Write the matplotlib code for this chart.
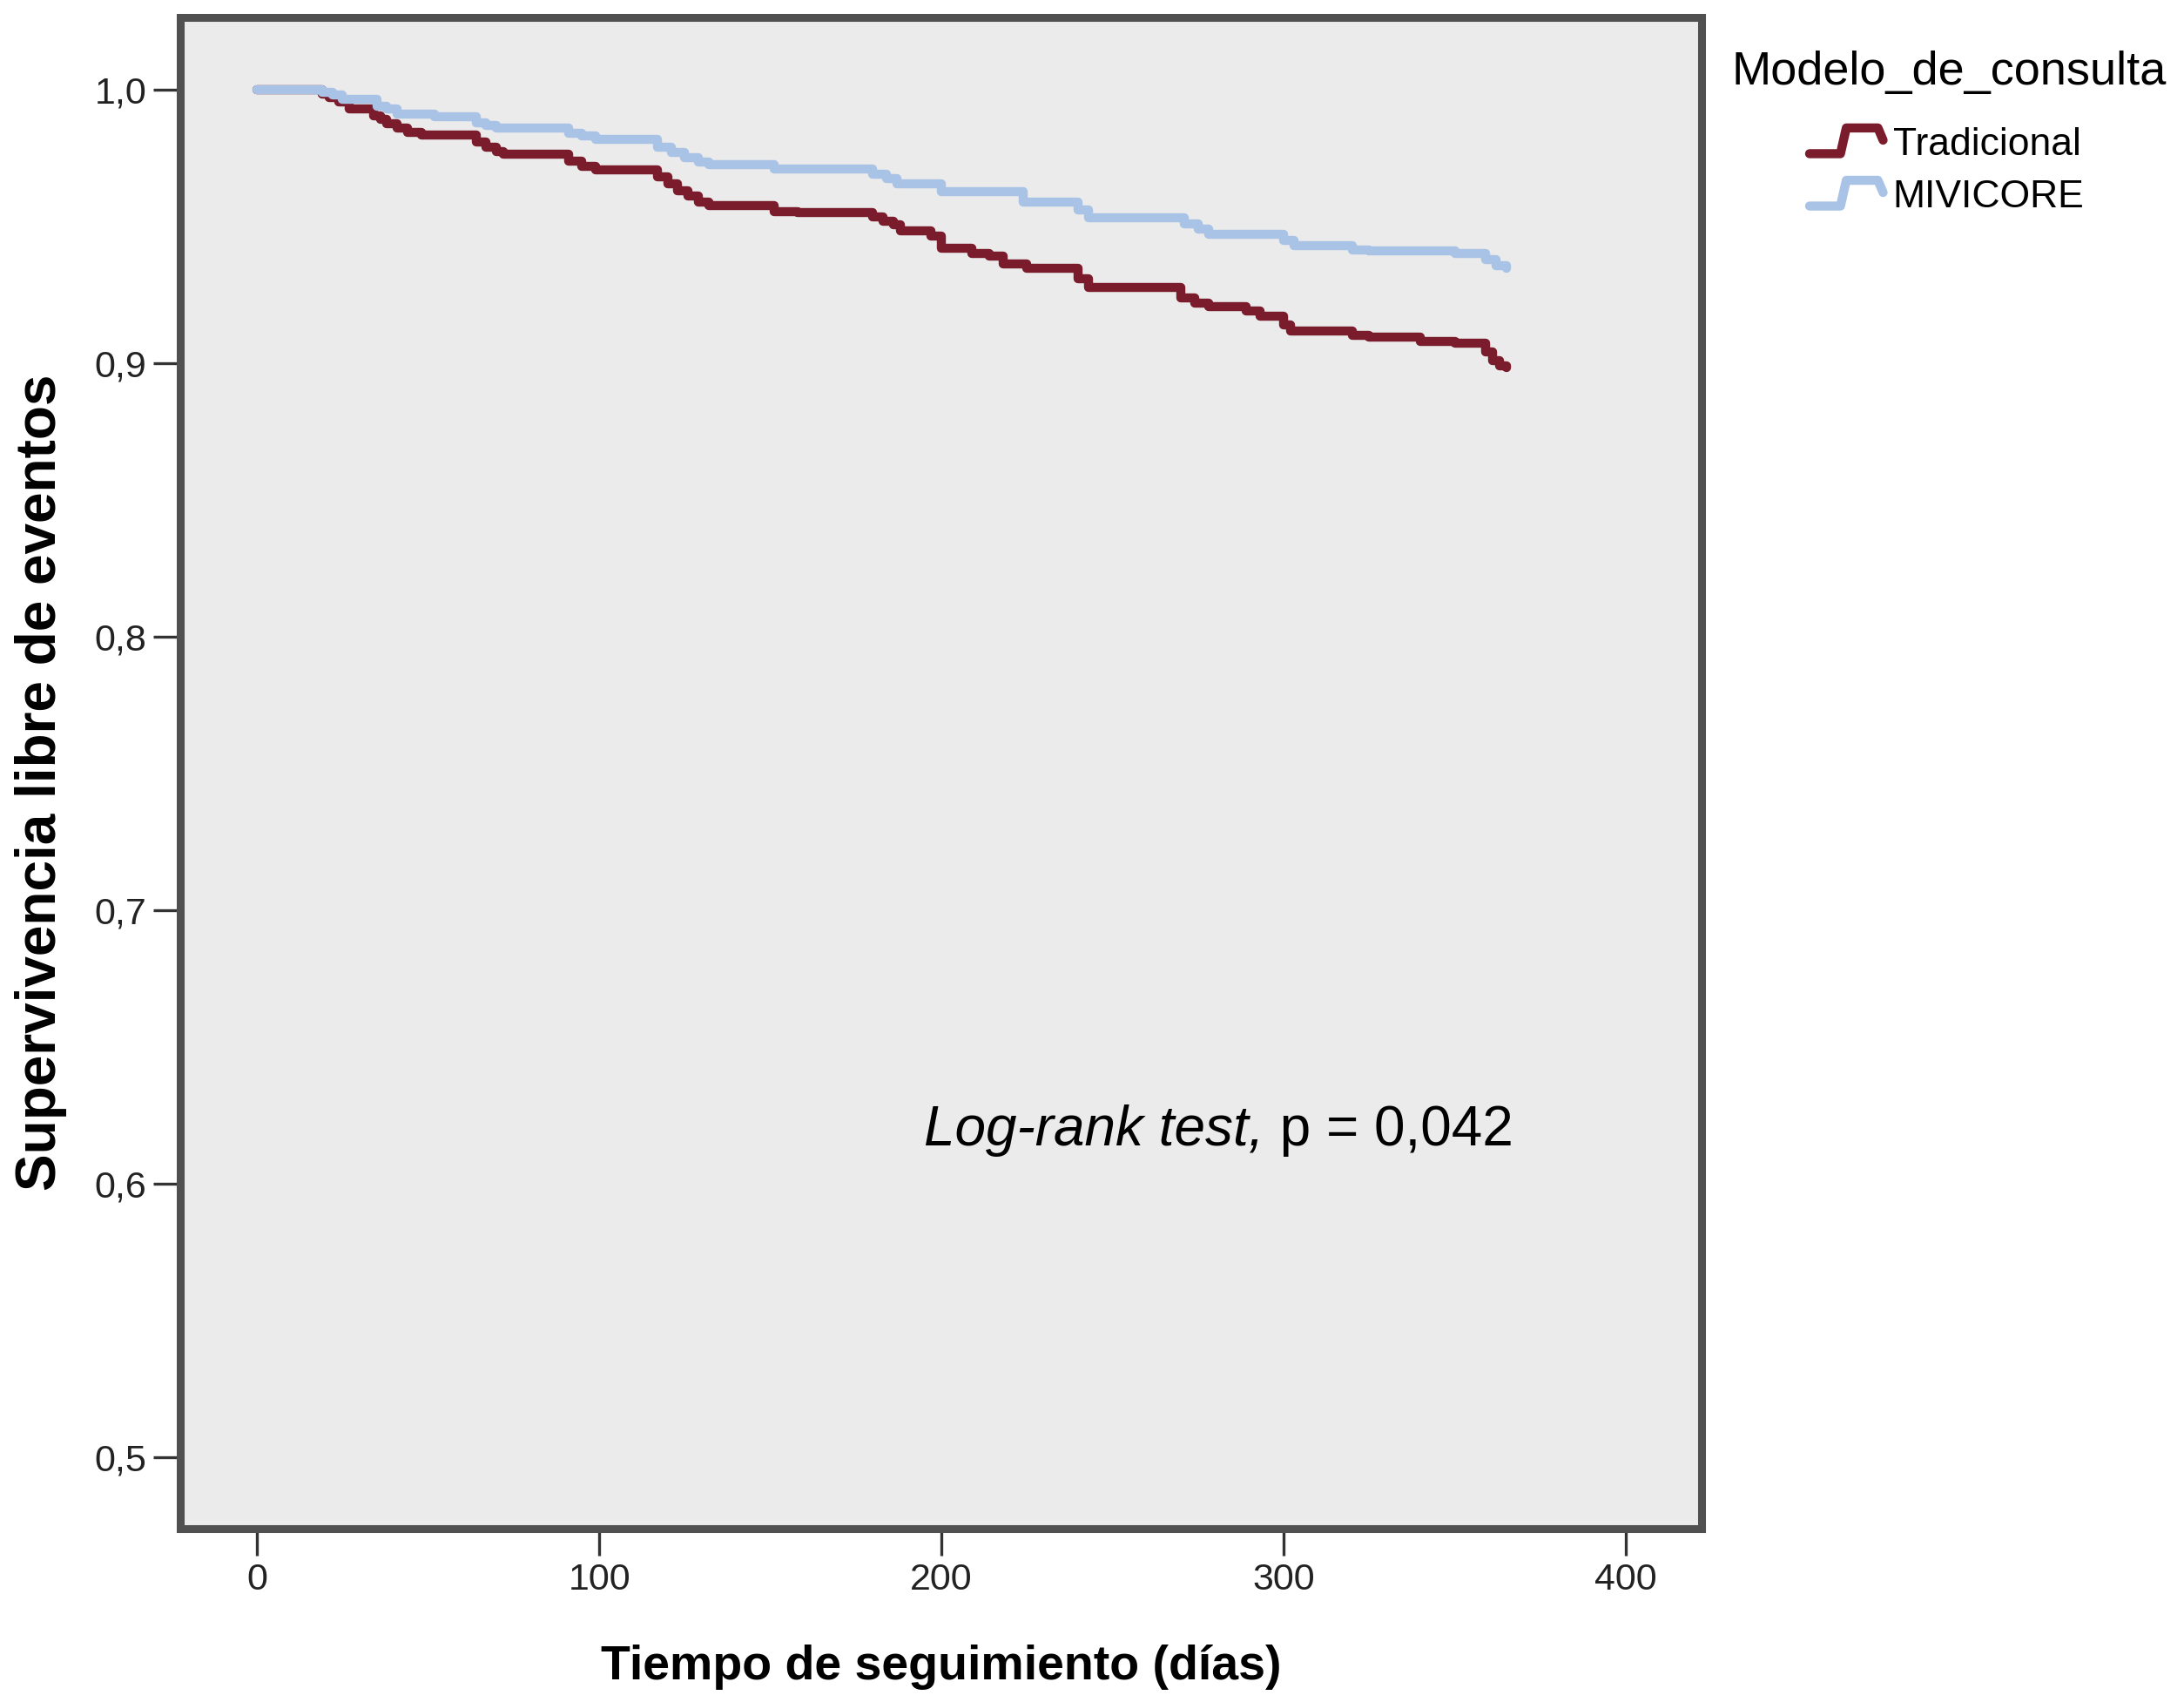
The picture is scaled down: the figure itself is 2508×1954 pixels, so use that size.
import numpy as np
import matplotlib
matplotlib.use("Agg")
import matplotlib.pyplot as plt
from matplotlib.lines import Line2D
from matplotlib.legend_handler import HandlerBase
from matplotlib.ticker import FuncFormatter

plt.rcParams['font.family'] = ['Liberation Sans', 'DejaVu Sans']

# Kaplan-Meier curves (days, survival)
dias_trad = [0, 19, 21, 24, 27, 34, 36, 38, 41, 44, 48, 64, 67, 70, 72, 91, 95, 99,
             117, 120, 123, 126, 129, 132, 151, 158, 180, 183, 186, 188, 197, 200,
             209, 214, 218, 225, 240, 243, 270, 274, 278, 289, 293, 300, 302, 320,
             325, 340, 350, 359, 361, 363, 365]
surv_trad = [1.0, 0.9985, 0.997, 0.9955, 0.993, 0.9905, 0.989, 0.9876, 0.986, 0.9845,
             0.9833, 0.981, 0.979, 0.9775, 0.9765, 0.974, 0.972, 0.9706, 0.968, 0.9655,
             0.963, 0.961, 0.959, 0.9575, 0.9555, 0.955, 0.9535, 0.952, 0.9505, 0.9485,
             0.9465, 0.942, 0.940, 0.939, 0.9362, 0.9346, 0.931, 0.9278, 0.924, 0.9219,
             0.9208, 0.919, 0.9171, 0.914, 0.9118, 0.9102, 0.9096, 0.908, 0.9073,
             0.904, 0.901, 0.899, 0.8985]

dias_mivi = [0, 19, 22, 25, 35, 38, 41, 52, 64, 67, 70, 91, 95, 99, 117, 121, 125, 129,
             132, 151, 180, 184, 187, 200, 224, 240, 243, 271, 275, 278, 300, 303, 320,
             325, 350, 359, 362, 365]
surv_mivi = [1.0, 0.999, 0.998, 0.9965, 0.994, 0.993, 0.991, 0.990, 0.988, 0.987,
             0.9858, 0.984, 0.983, 0.9817, 0.979, 0.977, 0.975, 0.9735, 0.9727, 0.9711,
             0.969, 0.9675, 0.9655, 0.9627, 0.959, 0.956, 0.9532, 0.951, 0.949, 0.947,
             0.945, 0.943, 0.9415, 0.941, 0.940, 0.938, 0.9355, 0.9346]

grupos = ["Tradicional", "MIVICORE"]
colores = ["#7b1c2d", "#a9c3e6"]
x_ticks = [0, 100, 200, 300, 400]
y_ticks = [0.5, 0.6, 0.7, 0.8, 0.9, 1.0]


class StepHandler(HandlerBase):
    # little KM-like step glyph for the legend
    def create_artists(self, legend, orig_handle, xdescent, ydescent,
                       width, height, fontsize, trans):
        xs = np.array([0.0, 0.42, 0.5, 0.93, 1.0]) * width - xdescent
        ys = np.array([0.05, 0.05, 1.0, 1.0, 0.55]) * height - ydescent
        ln = Line2D(xs, ys, color=orig_handle.get_color(),
                    lw=orig_handle.get_linewidth(),
                    solid_capstyle='round', solid_joinstyle='round')
        ln.set_transform(trans)
        return [ln]


W, H = 2508, 1954
fig = plt.figure(figsize=(W / 100, H / 100), dpi=100)
fig.patch.set_facecolor("white")
ax = fig.add_axes([207 / W, 1 - 1755 / H, (1954 - 207) / W, (1755 - 20) / H])
ax.set_facecolor("#ebebeb")

lineas = []
for t, s, nombre, c in zip([dias_trad, dias_mivi], [surv_trad, surv_mivi], grupos, colores):
    ln, = ax.step(t, s, where='post', color=c, lw=7.5, label=nombre,
                  solid_capstyle='round', solid_joinstyle='round')
    lineas.append(ln)

ax.set_xlim(-22.4, 422.1)
ax.set_ylim(0.4739, 1.0264)
ax.set_xticks(x_ticks)
ax.set_yticks(y_ticks)
ax.yaxis.set_major_formatter(FuncFormatter(lambda v, p: f"{v:.1f}".replace('.', ',')))
ax.tick_params(direction='out', length=22, width=2.4, color='#333333',
               labelsize=31, pad=6, labelcolor='#222222')

for sp in ax.spines.values():
    sp.set_linewidth(6.5)
    sp.set_color('#505050')

ax.set_xlabel("Tiempo de seguimiento (días)", fontsize=40, fontweight='bold')
ax.xaxis.set_label_coords(0.5, -0.0767)
ax.xaxis.label.set_va('top')
ax.set_ylabel("Supervivencia libre de eventos", fontsize=46, fontweight='bold')
ax.yaxis.set_label_coords(-0.0744, 0.494)

t1 = ax.text(195.0, 0.614, "Log-rank test,", fontsize=46, style='italic',
             va='baseline', ha='left')
ax.annotate(" p = 0,042", xy=(1, 0), xycoords=t1, fontsize=46,
            va='bottom', ha='left')

# legend: title placed on its own, entries below
fig.text(2238 / W, 1 - 83 / H, "Modelo_de_consulta", fontsize=39,
         ha='center', va='center')
fig.legend(lineas, grupos, loc='upper left',
           bbox_to_anchor=(2078 / W, 1 - 146 / H), frameon=False,
           fontsize=32, handlelength=1.9, handletextpad=0.25,
           labelspacing=0.43, borderpad=0, borderaxespad=0,
           handler_map={Line2D: StepHandler()})

fig.savefig("out.png", dpi=100)
